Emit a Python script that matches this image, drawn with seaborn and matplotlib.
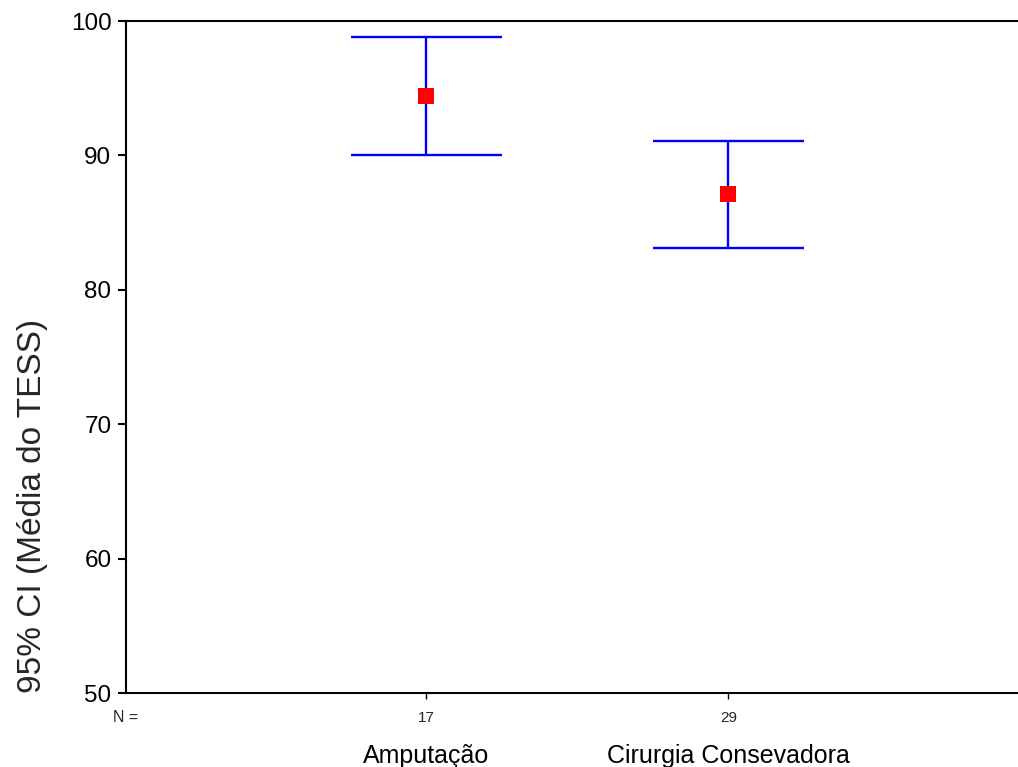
import matplotlib
matplotlib.use("Agg")
import matplotlib.pyplot as plt
import seaborn as sns
import pandas as pd
from matplotlib.transforms import blended_transform_factory

# ---- data ----
groups = ["Amputação", "Cirurgia Consevadora"]
means = [94.4, 87.1]
ci_low = [90.05, 83.1]
ci_high = [98.8, 91.1]
n_counts = [17, 29]
yticks = [50, 60, 70, 80, 90, 100]

sns.set_theme(style="ticks")
plt.rcParams['font.family'] = ['Liberation Sans', 'DejaVu Sans']

W, H = 1018, 767
fig = plt.figure(figsize=(W / 100, H / 100), dpi=100)
ax = fig.add_axes([126 / W, (H - 693) / H, 1 - 126 / W, (693 - 21) / H])

df = pd.DataFrame({"group": groups, "mean": means, "lo": ci_low, "hi": ci_high,
                   "n": n_counts})
df["pos"] = range(len(df))

cap = 0.25
ax.vlines(df["pos"], df["lo"], df["hi"], color="blue", lw=1.7, zorder=2)
ax.hlines(df["lo"], df["pos"] - cap, df["pos"] + cap, color="blue", lw=1.7, zorder=2)
ax.hlines(df["hi"], df["pos"] - cap, df["pos"] + cap, color="blue", lw=1.7, zorder=2)
sns.scatterplot(data=df, x="pos", y="mean", marker="s", color="red", s=120,
                linewidth=0, ax=ax, zorder=3, legend=False)

ax.set_ylim(50, 100)
ax.set_xlim(-0.994, 1.959)
ax.set_yticks(yticks)
ax.set_yticklabels([str(v) for v in yticks], fontsize=17.5)
ax.set_xticks(df["pos"])
ax.set_xticklabels(groups, fontsize=18)
ax.tick_params(axis="y", length=6, width=1.5, pad=4.5, colors="black")
ax.tick_params(axis="x", length=4, width=1, pad=33, colors="black")

for s in ["left", "top", "bottom"]:
    ax.spines[s].set_linewidth(1.5)
    ax.spines[s].set_color("black")
ax.spines["right"].set_visible(False)

ax.set_xlabel("")
ax.set_ylabel("95% CI (Média do TESS)", fontsize=24, va="center", ha="center")
ax.yaxis.set_label_coords((33 - 126) / 892, (693 - 506) / 672)

tr = blended_transform_factory(ax.transData, ax.transAxes)
ny = (693 - 718) / 672
for p, n in zip(df["pos"], df["n"]):
    ax.text(p, ny, str(n), transform=tr, ha="center", va="center", fontsize=11)
ax.text(0.0, ny, "N =", transform=ax.transAxes, ha="center", va="center", fontsize=11.5)

fig.savefig("out.png", dpi=100, facecolor="white")
